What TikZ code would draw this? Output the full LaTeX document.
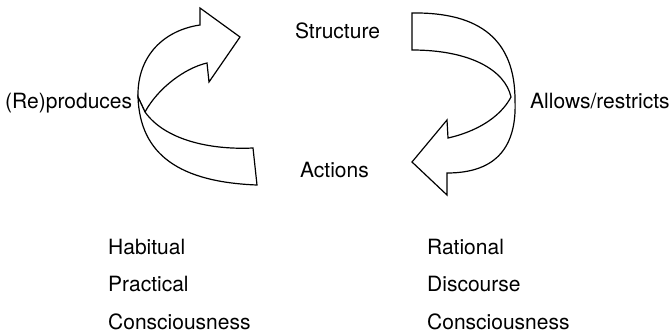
\documentclass[tikz,border=0pt]{standalone}
\usepackage{fontspec}
\setmainfont{TeX Gyre Heros}
\usepackage{tikz}
\usetikzlibrary{positioning}
\tikzset{
    %Define style for labels
    word/.style={
           inner sep=0pt,
           text depth=0pt,
           font=\fontsize{21}{25}\selectfont,
           anchor=base},
    wordleft/.style={
           word,
           anchor=base west},
    % Define style for the twisted arrows
    ribbon/.style={
           draw=black,
           fill=white,
           line width=1.2pt,
           line join=miter}
}
\begin{document}
\begin{tikzpicture}[x=1pt,y=-1pt]
\useasboundingbox (0,0) rectangle (672,333);

 %nodes
\node[word](structure) at (337.5,38){Structure};
\node[word](actions) at (334.5,177){Actions};
\node[wordleft](reproduces) at (5,108){(Re)produces};
\node[wordleft](allows) at (530,108){Allows/restricts};
\node[wordleft](habitual) at (108,254){Habitual};
\node[wordleft, below=37.5pt of habitual.base west, anchor=base west](practical){Practical};
\node[wordleft, below=37.5pt of practical.base west, anchor=base west](consciousL){Consciousness};
\node[wordleft](rational) at (427,254){Rational};
\node[wordleft, below=37.5pt of rational.base west, anchor=base west](discourse){Discourse};
\node[wordleft, below=37.5pt of discourse.base west, anchor=base west](consciousR){Consciousness};

 %left arrow, back part with head
\draw[ribbon] (138,97) .. controls (137,55) and (165,30) .. (200,25)
    -- (200,8) -- (240,37) -- (209,82) -- (207,63)
    .. controls (185,68) and (158,88) .. (145,112) -- cycle;
 %left arrow, front band
\draw[ribbon] (145,112) .. controls (165,140) and (210,150) .. (253,148)
    -- (257,185) .. controls (180,182) and (140,155) .. (138,97) -- cycle;

 %right arrow
\draw[ribbon] (412,13) .. controls (480,12) and (515,40) .. (515,100)
    .. controls (517,145) and (498,173) .. (447,173)
    -- (447,195) -- (412,162) -- (447,120) -- (448,138)
    .. controls (475,132) and (500,118) .. (511,97)
    .. controls (505,70) and (470,50) .. (412,50) -- cycle;
\end{tikzpicture}
\end{document}
